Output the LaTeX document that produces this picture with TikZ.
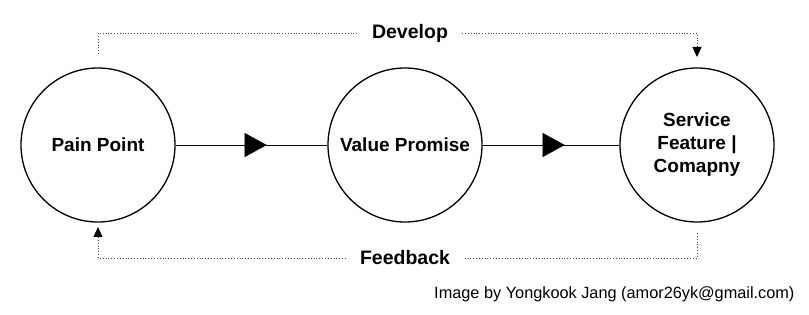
\documentclass[tikz,border=0pt]{standalone}
\usepackage{fontspec}
\setmainfont{Liberation Sans}
\usetikzlibrary{arrows.meta,decorations.markings}
\begin{document}
\begin{tikzpicture}[x=1pt,y=-1pt,
  stage/.style={draw, line width=1.3pt, circle, minimum size=154pt, align=center, font=\fontsize{19}{23}\selectfont\bfseries},
  flow/.style={postaction={decorate}, decoration={markings, mark=at position 0.6 with {\arrow{Triangle[length=22pt,width=24pt]}}}},
  loop/.style={dotted, black!70, line width=0.85pt},
  loopend/.style={-{Triangle[length=10pt,width=9pt,color=black]}},
  looplabel/.style={inner xsep=14pt, font=\fontsize{19.5}{22}\selectfont\bfseries}]
\useasboundingbox (0,0) rectangle (809,315);
\node[stage] (pain) at (98,145) {Pain Point};
\node[stage] (value) at (405,145) {Value Promise};
\node[stage] (service) at (697,145) {Service\\Feature |\\Comapny};
\draw[flow] (pain) -- (value);
\draw[flow] (value) -- (service);
% develop loop
\node[looplabel] (develop) at (410,33) {Develop};
\coordinate (devin) at (98,54);
\coordinate (devout) at (697,57);
\draw[loop] (devin) |- (develop.west);
\draw[loop, loopend] (develop.east) -| (devout);
% feedback loop
\node[looplabel] (feedback) at (405,258) {Feedback};
\coordinate (fbin) at (697,233);
\coordinate (fbout) at (98,227);
\draw[loop] (fbin) |- (feedback.east);
\draw[loop, loopend] (feedback.west) -| (fbout);
\node[anchor=east, font=\fontsize{16.3}{19}\selectfont] (credit) at (798,294) {Image by Yongkook Jang (amor26yk@gmail.com)};
\end{tikzpicture}
\end{document}
